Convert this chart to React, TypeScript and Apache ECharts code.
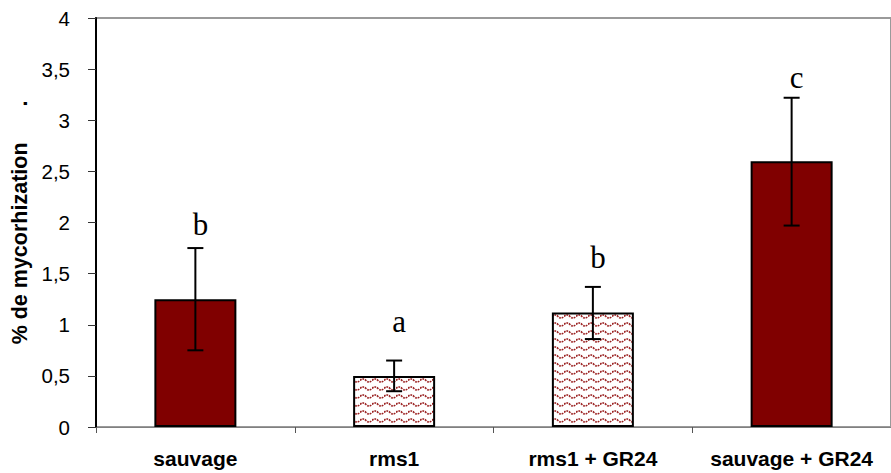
import React, { useEffect, useRef } from "react";
import * as echarts from "echarts";

const categories = ["sauvage", "rms1", "rms1 + GR24", "sauvage + GR24"];
const means = [1.25, 0.5, 1.12, 2.6];
const errLow = [0.75, 0.35, 0.86, 1.97];
const errHigh = [1.75, 0.65, 1.37, 3.22];
const patterned = [false, true, true, false];
const letters = ["b", "a", "b", "c"];
const letterPos = [1.98, 1.03, 1.66, 3.42];
const yTicks = [0, 0.5, 1, 1.5, 2, 2.5, 3, 3.5, 4];

const tileSvg =
  "<svg xmlns='http://www.w3.org/2000/svg' width='12' height='8'>" +
  "<rect width='12' height='8' fill='white'/>" +
  "<path d='M0 4.5 Q3 1.5 6 4.5 T12 4.5' fill='none' stroke='#9a1f1f' stroke-width='1.7' stroke-dasharray='1.8,0.9'/>" +
  "</svg>";
const tileUrl = "data:image/svg+xml;charset=utf-8," + encodeURIComponent(tileSvg);

export default function App() {
  const ref = useRef<HTMLDivElement>(null);
  useEffect(() => {
    if (!ref.current) return;
    const chart = echarts.init(ref.current, undefined, { renderer: "svg" });
    const pattern = { image: tileUrl, repeat: "repeat", imageWidth: 12, imageHeight: 8 };
    const barData = means.map((v, i) => ({
      value: v,
      itemStyle: {
        color: patterned[i] ? (pattern as any) : "#800000",
        borderColor: "#000",
        borderWidth: 2,
      },
    }));
    chart.setOption({
      animation: false,
      backgroundColor: "#fff",
      grid: {
        left: 96,
        right: -11,
        top: 18,
        bottom: 46,
        containLabel: false,
        show: true,
        borderColor: "#9a9a9a",
        borderWidth: 2,
      },
      xAxis: {
        type: "category",
        data: categories,
        boundaryGap: true,
        axisLine: { lineStyle: { color: "#808080", width: 1 } },
        axisTick: { show: true, length: 6, lineStyle: { color: "#555", width: 1 } },
        axisLabel: {
          margin: 21,
          fontFamily: "Liberation Sans, Arial, sans-serif",
          fontWeight: "bold",
          fontSize: 21,
          color: "#000",
          interval: 0,
        },
        splitLine: { show: false },
      },
      yAxis: {
        type: "value",
        min: 0,
        max: 4,
        interval: 0.5,
        name: "% de mycorhization\u00a0\u00a0\u00a0\u00a0\u00a0\u00a0.",
        nameLocation: "middle",
        nameGap: 61,
        nameTextStyle: {
          fontFamily: "Liberation Sans, Arial, sans-serif",
          fontWeight: "bold",
          fontSize: 21.5,
          color: "#000",
          padding: [0, 0, 0, 0],
        },
        axisLine: { show: true, lineStyle: { color: "#000", width: 2 } },
        axisTick: { show: true, inside: false, length: 8, lineStyle: { color: "#333", width: 1 } },
        axisLabel: {
          margin: 26,
          fontFamily: "Liberation Sans, Arial, sans-serif",
          fontSize: 20.5,
          color: "#000",
          formatter: (v: number) => (yTicks.includes(v) ? String(v).replace(".", ",") : ""),
        },
        splitLine: { show: false },
      },
      series: [
        {
          type: "bar",
          data: barData,
          barWidth: 82,
          z: 2,
        },
        {
          type: "custom",
          z: 5,
          data: means.map((_, i) => [i, errLow[i], errHigh[i]]),
          renderItem: (params: any, api: any) => {
            const i = api.value(0);
            const top = api.coord([i, api.value(2)]);
            const bot = api.coord([i, api.value(1)]);
            const x = top[0];
            const half = 8;
            const style = { stroke: "#000", lineWidth: 2 };
            return {
              type: "group",
              children: [
                { type: "line", shape: { x1: x, y1: top[1], x2: x, y2: bot[1] }, style },
                { type: "line", shape: { x1: x - half, y1: top[1], x2: x + half, y2: top[1] }, style },
                { type: "line", shape: { x1: x - half, y1: bot[1], x2: x + half, y2: bot[1] }, style },
              ],
            };
          },
        },
        {
          type: "custom",
          z: 6,
          data: letters.map((l, i) => [i, letterPos[i], l]),
          renderItem: (params: any, api: any) => {
            const i = api.value(0);
            const p = api.coord([i, api.value(1)]);
            return {
              type: "text",
              x: p[0] + 5,
              y: p[1],
              style: {
                text: letters[params.dataIndex],
                fontFamily: "Liberation Serif, Times New Roman, serif",
                fontSize: 31,
                fill: "#000",
                align: "center",
                verticalAlign: "middle",
              },
            };
          },
        },
      ],
    });
    return () => chart.dispose();
  }, []);
  return <div ref={ref} style={{ width: 891, height: 473, position: "absolute", left: 0, top: 0 }} />;
}
